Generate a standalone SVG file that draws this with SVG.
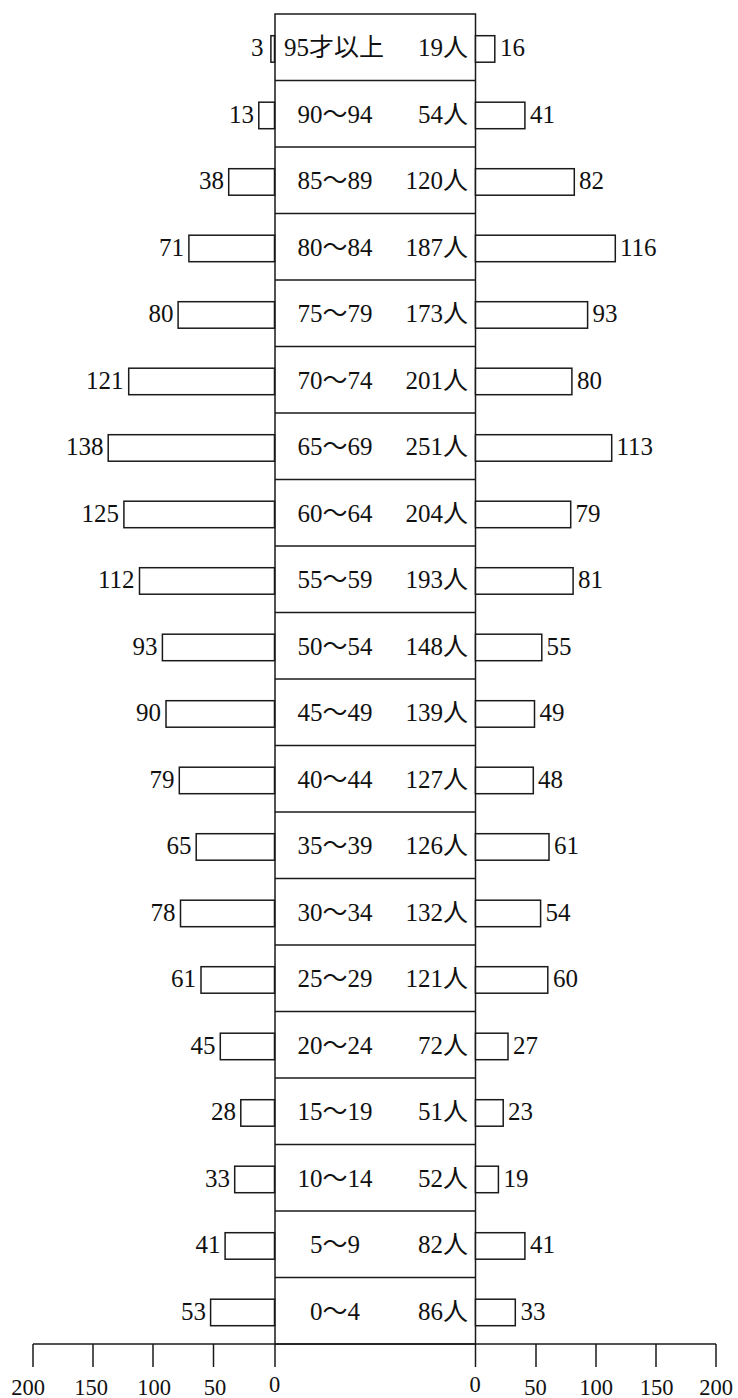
<svg xmlns="http://www.w3.org/2000/svg" width="738" height="1398" viewBox="0 0 738 1398">
<style>
.ln{stroke:#1a1a1a;stroke-width:1.5;fill:none}
.bar{stroke:#1a1a1a;stroke-width:1.5;fill:#fff}
text{font-family:"Liberation Serif","Noto Sans CJK JP",serif;font-size:25px;fill:#111}
.ax{font-size:22.5px;text-anchor:middle}
.e{text-anchor:end}
.m{text-anchor:middle}
.s{text-anchor:start}
</style>
<rect width="738" height="1398" fill="#fff"/>
<g id="frame">
<rect class="ln" x="275" y="14" width="200.5" height="1330"/>
</g>
<g id="connectors">
<line class="ln" x1="275" y1="80.5" x2="475.5" y2="80.5"/>
<line class="ln" x1="275" y1="147" x2="475.5" y2="147"/>
<line class="ln" x1="275" y1="213.5" x2="475.5" y2="213.5"/>
<line class="ln" x1="275" y1="280" x2="475.5" y2="280"/>
<line class="ln" x1="275" y1="346.5" x2="475.5" y2="346.5"/>
<line class="ln" x1="275" y1="413" x2="475.5" y2="413"/>
<line class="ln" x1="275" y1="479.5" x2="475.5" y2="479.5"/>
<line class="ln" x1="275" y1="546" x2="475.5" y2="546"/>
<line class="ln" x1="275" y1="612.5" x2="475.5" y2="612.5"/>
<line class="ln" x1="275" y1="679" x2="475.5" y2="679"/>
<line class="ln" x1="275" y1="745.5" x2="475.5" y2="745.5"/>
<line class="ln" x1="275" y1="812" x2="475.5" y2="812"/>
<line class="ln" x1="275" y1="878.5" x2="475.5" y2="878.5"/>
<line class="ln" x1="275" y1="945" x2="475.5" y2="945"/>
<line class="ln" x1="275" y1="1011.5" x2="475.5" y2="1011.5"/>
<line class="ln" x1="275" y1="1078" x2="475.5" y2="1078"/>
<line class="ln" x1="275" y1="1144.5" x2="475.5" y2="1144.5"/>
<line class="ln" x1="275" y1="1211" x2="475.5" y2="1211"/>
<line class="ln" x1="275" y1="1277.5" x2="475.5" y2="1277.5"/>
</g>
<g id="axis">
<line class="ln" x1="33" y1="1344" x2="716" y2="1344"/>
<line class="ln" x1="33" y1="1344" x2="33" y2="1367"/>
<line class="ln" x1="93" y1="1344" x2="93" y2="1367"/>
<line class="ln" x1="153" y1="1344" x2="153" y2="1367"/>
<line class="ln" x1="213.5" y1="1344" x2="213.5" y2="1367"/>
<line class="ln" x1="275" y1="1344" x2="275" y2="1367"/>
<line class="ln" x1="475.5" y1="1344" x2="475.5" y2="1367"/>
<line class="ln" x1="536" y1="1344" x2="536" y2="1367"/>
<line class="ln" x1="596" y1="1344" x2="596" y2="1367"/>
<line class="ln" x1="656" y1="1344" x2="656" y2="1367"/>
<line class="ln" x1="716" y1="1344" x2="716" y2="1367"/>
<text class="ax" x="28" y="1395">200</text>
<text class="ax" x="91" y="1395">150</text>
<text class="ax" x="154" y="1395">100</text>
<text class="ax" x="215" y="1395">50</text>
<text class="ax" x="274.5" y="1392">0</text>
<text class="ax" x="475" y="1392">0</text>
<text class="ax" x="535.5" y="1395">50</text>
<text class="ax" x="596" y="1395">100</text>
<text class="ax" x="656.5" y="1395">150</text>
<text class="ax" x="716" y="1395">200</text>
</g>
<g id="row-95">
<rect class="bar" x="270.9" y="35.7" width="3.6" height="26.5"/>
<rect class="bar" x="475.5" y="35.7" width="19.3" height="26.5"/>
<text class="e" x="263.5" y="56.25">3</text>
<text class="m" x="334" y="56.25">95才以上</text>
<text class="e" x="468" y="56.25">19人</text>
<text class="s" x="500" y="56.25">16</text>
</g>
<g id="row-90">
<rect class="bar" x="258.8" y="102.2" width="15.7" height="26.5"/>
<rect class="bar" x="475.5" y="102.2" width="49.4" height="26.5"/>
<text class="e" x="254" y="122.75">13</text>
<text class="m" x="335" y="122.75">90〜94</text>
<text class="e" x="468" y="122.75">54人</text>
<text class="s" x="530" y="122.75">41</text>
</g>
<g id="row-85">
<rect class="bar" x="228.7" y="168.7" width="45.8" height="26.5"/>
<rect class="bar" x="475.5" y="168.7" width="98.8" height="26.5"/>
<text class="e" x="224" y="189.25">38</text>
<text class="m" x="335" y="189.25">85〜89</text>
<text class="e" x="468" y="189.25">120人</text>
<text class="s" x="579" y="189.25">82</text>
</g>
<g id="row-80">
<rect class="bar" x="188.9" y="235.2" width="85.6" height="26.5"/>
<rect class="bar" x="475.5" y="235.2" width="139.8" height="26.5"/>
<text class="e" x="184" y="255.75">71</text>
<text class="m" x="335" y="255.75">80〜84</text>
<text class="e" x="468" y="255.75">187人</text>
<text class="s" x="620" y="255.75">116</text>
</g>
<g id="row-75">
<rect class="bar" x="178.1" y="301.7" width="96.4" height="26.5"/>
<rect class="bar" x="475.5" y="301.7" width="112.1" height="26.5"/>
<text class="e" x="173.5" y="322.25">80</text>
<text class="m" x="335" y="322.25">75〜79</text>
<text class="e" x="468" y="322.25">173人</text>
<text class="s" x="592.5" y="322.25">93</text>
</g>
<g id="row-70">
<rect class="bar" x="128.7" y="368.2" width="145.8" height="26.5"/>
<rect class="bar" x="475.5" y="368.2" width="96.4" height="26.5"/>
<text class="e" x="123.5" y="388.75">121</text>
<text class="m" x="335" y="388.75">70〜74</text>
<text class="e" x="468" y="388.75">201人</text>
<text class="s" x="577" y="388.75">80</text>
</g>
<g id="row-65">
<rect class="bar" x="108.2" y="434.7" width="166.3" height="26.5"/>
<rect class="bar" x="475.5" y="434.7" width="136.2" height="26.5"/>
<text class="e" x="103.5" y="455.25">138</text>
<text class="m" x="335" y="455.25">65〜69</text>
<text class="e" x="468" y="455.25">251人</text>
<text class="s" x="616.5" y="455.25">113</text>
</g>
<g id="row-60">
<rect class="bar" x="123.9" y="501.2" width="150.6" height="26.5"/>
<rect class="bar" x="475.5" y="501.2" width="95.2" height="26.5"/>
<text class="e" x="119" y="521.75">125</text>
<text class="m" x="335" y="521.75">60〜64</text>
<text class="e" x="468" y="521.75">204人</text>
<text class="s" x="575.5" y="521.75">79</text>
</g>
<g id="row-55">
<rect class="bar" x="139.5" y="567.7" width="135" height="26.5"/>
<rect class="bar" x="475.5" y="567.7" width="97.6" height="26.5"/>
<text class="e" x="134.5" y="588.25">112</text>
<text class="m" x="335" y="588.25">55〜59</text>
<text class="e" x="468" y="588.25">193人</text>
<text class="s" x="578" y="588.25">81</text>
</g>
<g id="row-50">
<rect class="bar" x="162.4" y="634.2" width="112.1" height="26.5"/>
<rect class="bar" x="475.5" y="634.2" width="66.3" height="26.5"/>
<text class="e" x="157.5" y="654.75">93</text>
<text class="m" x="335" y="654.75">50〜54</text>
<text class="e" x="468" y="654.75">148人</text>
<text class="s" x="546.5" y="654.75">55</text>
</g>
<g id="row-45">
<rect class="bar" x="166" y="700.7" width="108.5" height="26.5"/>
<rect class="bar" x="475.5" y="700.7" width="59" height="26.5"/>
<text class="e" x="161" y="721.25">90</text>
<text class="m" x="335" y="721.25">45〜49</text>
<text class="e" x="468" y="721.25">139人</text>
<text class="s" x="539.5" y="721.25">49</text>
</g>
<g id="row-40">
<rect class="bar" x="179.3" y="767.2" width="95.2" height="26.5"/>
<rect class="bar" x="475.5" y="767.2" width="57.8" height="26.5"/>
<text class="e" x="174.5" y="787.75">79</text>
<text class="m" x="335" y="787.75">40〜44</text>
<text class="e" x="468" y="787.75">127人</text>
<text class="s" x="538" y="787.75">48</text>
</g>
<g id="row-35">
<rect class="bar" x="196.2" y="833.7" width="78.3" height="26.5"/>
<rect class="bar" x="475.5" y="833.7" width="73.5" height="26.5"/>
<text class="e" x="191.5" y="854.25">65</text>
<text class="m" x="335" y="854.25">35〜39</text>
<text class="e" x="468" y="854.25">126人</text>
<text class="s" x="554" y="854.25">61</text>
</g>
<g id="row-30">
<rect class="bar" x="180.5" y="900.2" width="94" height="26.5"/>
<rect class="bar" x="475.5" y="900.2" width="65.1" height="26.5"/>
<text class="e" x="175.5" y="920.75">78</text>
<text class="m" x="335" y="920.75">30〜34</text>
<text class="e" x="468" y="920.75">132人</text>
<text class="s" x="545.5" y="920.75">54</text>
</g>
<g id="row-25">
<rect class="bar" x="201" y="966.7" width="73.5" height="26.5"/>
<rect class="bar" x="475.5" y="966.7" width="72.3" height="26.5"/>
<text class="e" x="196" y="987.25">61</text>
<text class="m" x="335" y="987.25">25〜29</text>
<text class="e" x="468" y="987.25">121人</text>
<text class="s" x="553" y="987.25">60</text>
</g>
<g id="row-20">
<rect class="bar" x="220.3" y="1033.2" width="54.2" height="26.5"/>
<rect class="bar" x="475.5" y="1033.2" width="32.5" height="26.5"/>
<text class="e" x="215.5" y="1053.75">45</text>
<text class="m" x="335" y="1053.75">20〜24</text>
<text class="e" x="468" y="1053.75">72人</text>
<text class="s" x="513" y="1053.75">27</text>
</g>
<g id="row-15">
<rect class="bar" x="240.8" y="1099.7" width="33.7" height="26.5"/>
<rect class="bar" x="475.5" y="1099.7" width="27.7" height="26.5"/>
<text class="e" x="236" y="1120.25">28</text>
<text class="m" x="335" y="1120.25">15〜19</text>
<text class="e" x="468" y="1120.25">51人</text>
<text class="s" x="508" y="1120.25">23</text>
</g>
<g id="row-10">
<rect class="bar" x="234.7" y="1166.2" width="39.8" height="26.5"/>
<rect class="bar" x="475.5" y="1166.2" width="22.9" height="26.5"/>
<text class="e" x="230" y="1186.75">33</text>
<text class="m" x="335" y="1186.75">10〜14</text>
<text class="e" x="468" y="1186.75">52人</text>
<text class="s" x="503.5" y="1186.75">19</text>
</g>
<g id="row-5">
<rect class="bar" x="225.1" y="1232.7" width="49.4" height="26.5"/>
<rect class="bar" x="475.5" y="1232.7" width="49.4" height="26.5"/>
<text class="e" x="220.5" y="1253.25">41</text>
<text class="m" x="335" y="1253.25">5〜9</text>
<text class="e" x="468" y="1253.25">82人</text>
<text class="s" x="530" y="1253.25">41</text>
</g>
<g id="row-0">
<rect class="bar" x="210.6" y="1299.2" width="63.9" height="26.5"/>
<rect class="bar" x="475.5" y="1299.2" width="39.8" height="26.5"/>
<text class="e" x="206" y="1319.75">53</text>
<text class="m" x="335" y="1319.75">0〜4</text>
<text class="e" x="468" y="1319.75">86人</text>
<text class="s" x="520.5" y="1319.75">33</text>
</g>
</svg>
